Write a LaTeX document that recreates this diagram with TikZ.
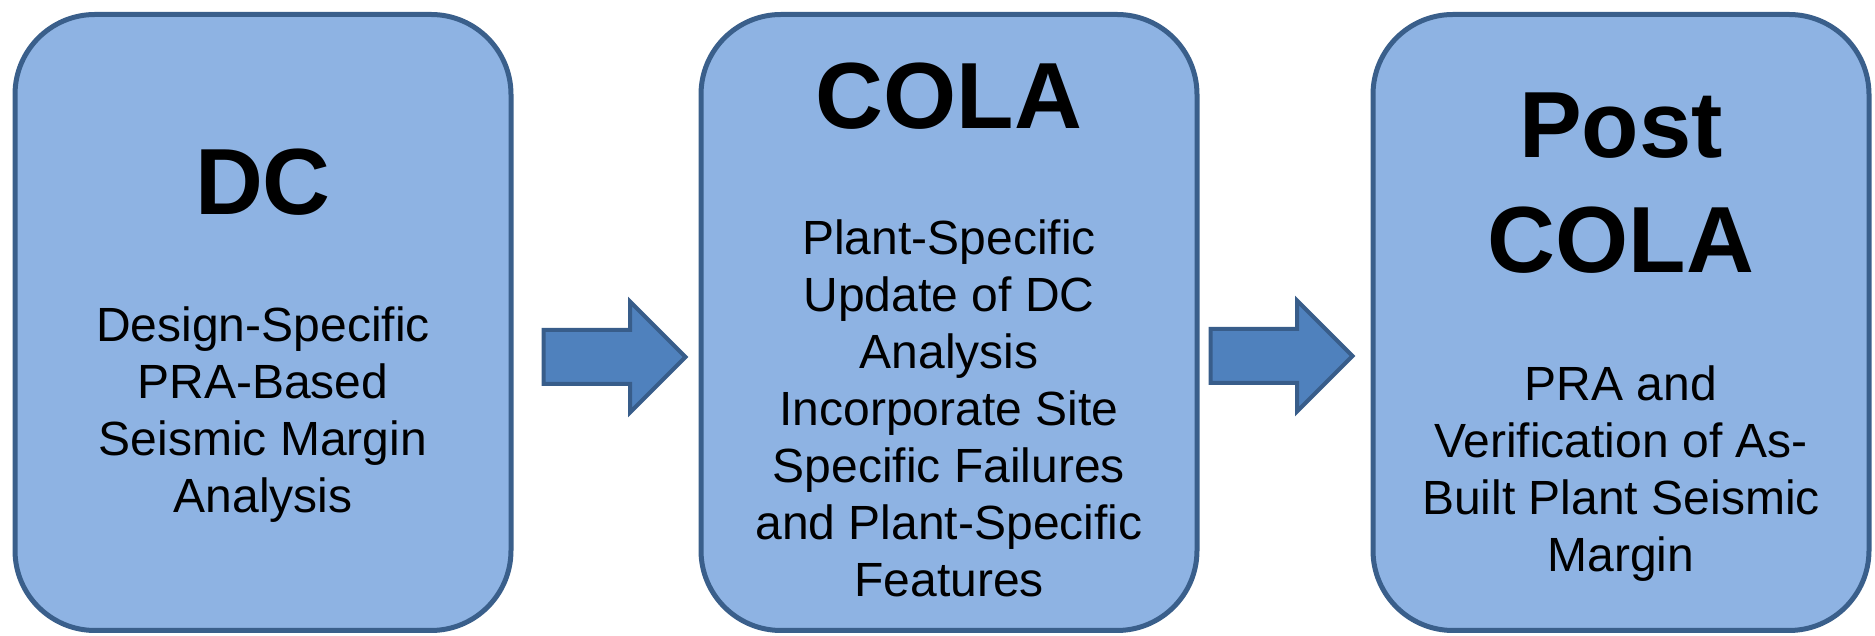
\documentclass[tikz,border=0pt]{standalone}
\usepackage{fontspec}
\setmainfont{Liberation Sans}
\usetikzlibrary{positioning,shapes.arrows}

\definecolor{boxfill}{RGB}{142,179,227}
\definecolor{boxline}{RGB}{58,95,139}
\definecolor{arrowfill}{RGB}{79,129,189}
\definecolor{arrowline}{RGB}{56,93,138}

\tikzset{
  stage/.style={draw=boxline, fill=boxfill, line width=2.5pt, rounded corners=40pt,
    minimum width=248pt, minimum height=308pt, inner sep=0pt},
  stagetitle/.style={font=\fontsize{47}{57.5}\selectfont\bfseries, align=center,
    inner sep=0pt, anchor=base},
  stagetext/.style={font=\fontsize{24}{28.5}\selectfont, align=center,
    inner sep=0pt, anchor=base},
  flowarrow/.style={single arrow, draw=arrowline, fill=arrowfill, line width=2pt,
    inner sep=0pt, text height=25pt, text depth=0pt, minimum width=0pt,
    single arrow head extend=14.25pt, single arrow head indent=0pt,
    minimum height=71pt}
}

\begin{document}
\begin{tikzpicture}
\useasboundingbox (0,0) rectangle (937.5pt,318pt);

\def\xa{131.5pt}
\def\xb{474.5pt}
\def\xc{810.5pt}
\def\ym{156.75pt}

\node[stage] (dc) at (\xa, \ym) {};
\node[stage] (cola) at (\xb, \ym) {};
\node[stage] (post) at (\xc, \ym) {};

\node[stagetitle] (dctitle) at (\xa, 210.5pt) {DC};
\node[stagetext] (dctext) at (\xa, 61.5pt) {Design-Specific\\PRA-Based\\Seismic Margin\\Analysis};

\node[stagetitle] (colatitle) at (\xb, 253.5pt) {COLA};
\node[stagetext] (colatext) at (\xb, 19.5pt) {Plant-Specific\\Update of DC\\Analysis\\Incorporate Site\\Specific Failures\\and Plant-Specific\\Features};

\node[stagetitle] (posttitle) at (\xc, 181.5pt) {Post\\COLA};
\node[stagetext] (posttext) at (\xc, 32pt) {PRA and\\Verification of As-\\Built Plant Seismic\\Margin};

\node[flowarrow] (dccola) at (300.5pt, 139.5pt) {};
\node[flowarrow] (colapost) at (634pt, 140pt) {};
\end{tikzpicture}
\end{document}
